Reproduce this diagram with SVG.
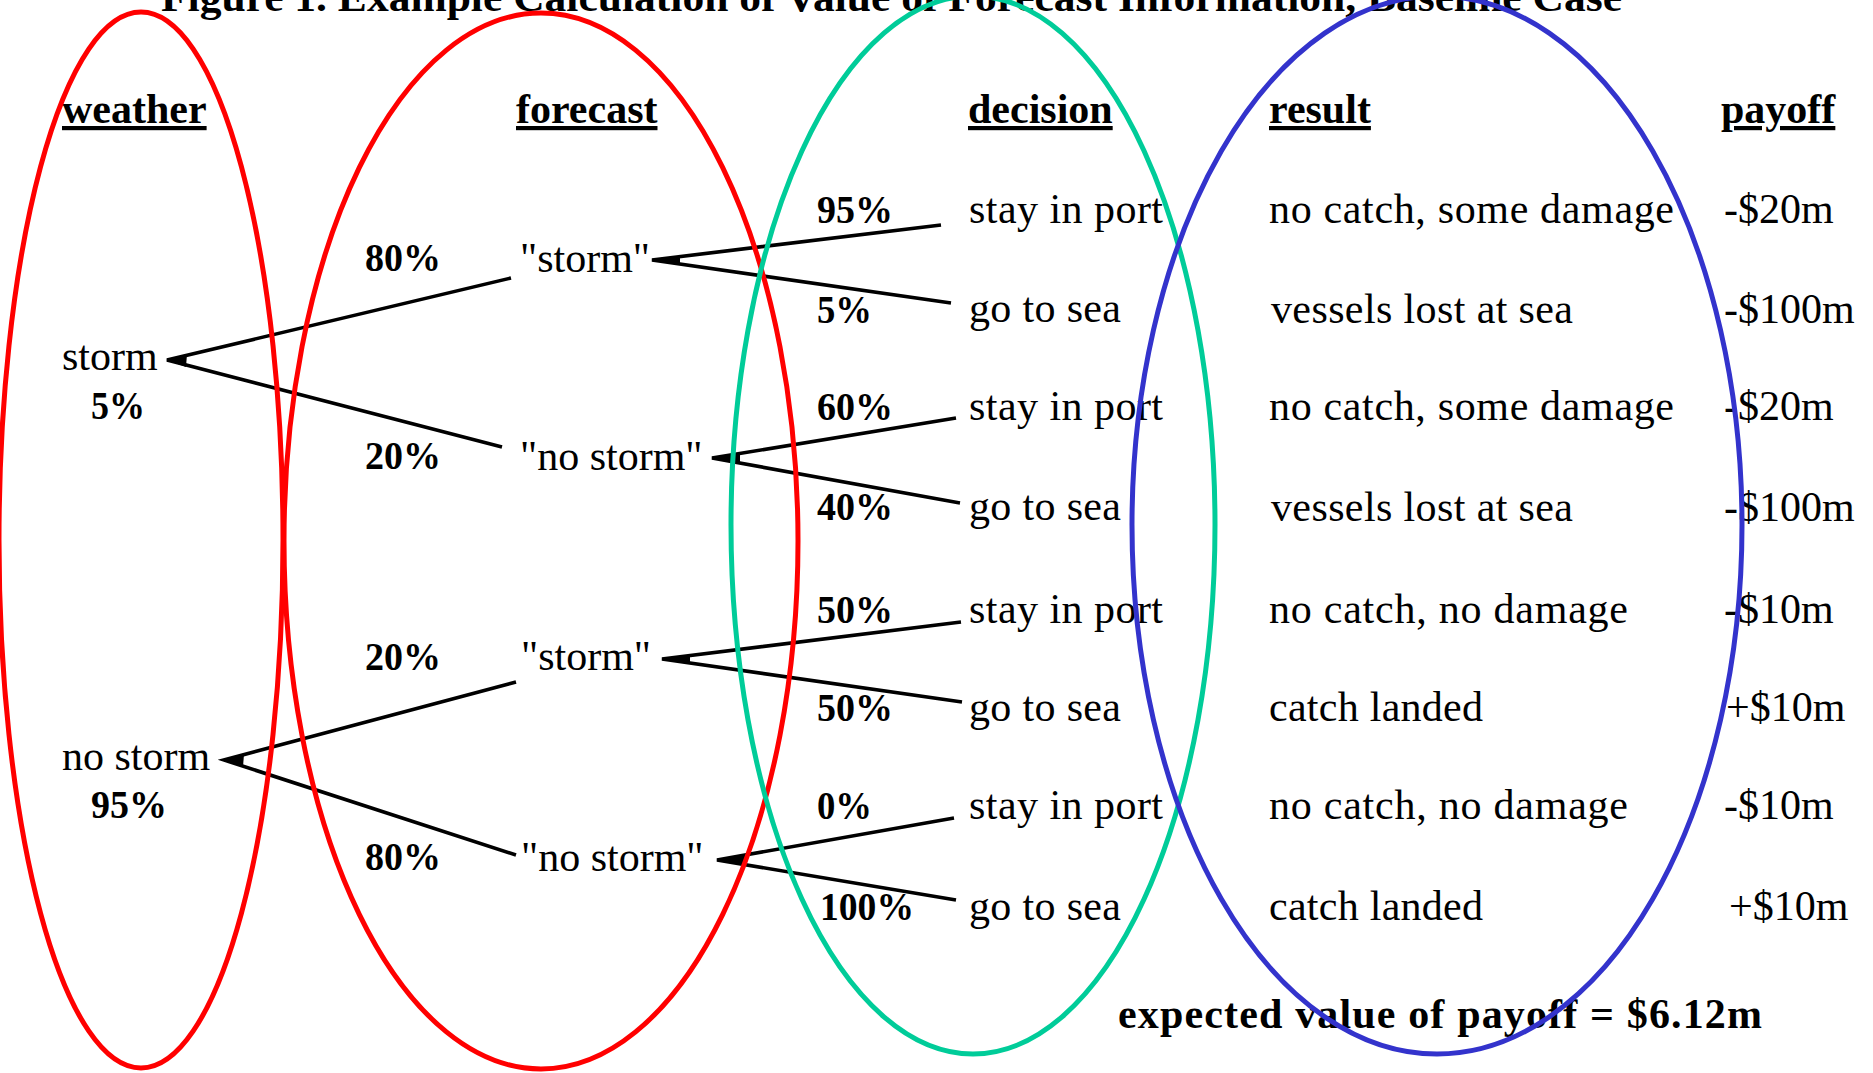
<svg xmlns="http://www.w3.org/2000/svg" width="1873" height="1073" viewBox="0 0 1873 1073">
<style>
text{font-family:"Liberation Serif","Times New Roman",serif;fill:#000}
.t{font-size:40px;font-weight:bold}
.h{font-size:42px;font-weight:bold;text-decoration:underline}
.b{font-size:42px}
.p{font-size:41px;font-weight:bold}
.e{font-size:42px;font-weight:bold}
.ln{stroke:#000;stroke-width:3.6;fill:none;stroke-linejoin:miter}
.wd{fill:#000;stroke:none}
.ov{fill:none;stroke-width:5}
</style>
<rect width="1873" height="1073" fill="#fff"/>
<text class="t" x="161" y="11" textLength="1461" lengthAdjust="spacingAndGlyphs">Figure 1. Example Calculation of Value of Forecast Information, Baseline Case</text>
<g id="headers">
<text class="h" x="62" y="123">weather</text>
<text class="h" x="516" y="123">forecast</text>
<text class="h" x="968" y="123">decision</text>
<text class="h" x="1269" y="123">result</text>
<text class="h" x="1721" y="123">payoff</text>
</g>
<g id="connectors">
<polyline class="ln" points="511,278 167,360 502,447"/>
<polygon class="wd" points="167,360 187,354 186,367"/>
<polyline class="ln" points="516,682 224,760 516,855"/>
<polygon class="wd" points="224,760 244,754 243,767"/>
<polyline class="ln" points="941,225 652,260 951,303"/>
<polygon class="wd" points="652,260 680,256 680,264"/>
<polyline class="ln" points="956,418 712,458 960,503"/>
<polygon class="wd" points="712,458 740,453 740,463"/>
<polyline class="ln" points="961,622 662,659 962,702"/>
<polygon class="wd" points="662,659 690,655 690,663"/>
<polyline class="ln" points="954,818 717,860 956,900"/>
<polygon class="wd" points="717,860 745,855 745,865"/>
</g>
<g id="weather-storm"><text class="b" x="62" y="370">storm</text><text class="p" x="91" y="419" textLength="54" lengthAdjust="spacingAndGlyphs">5%</text></g>
<g id="weather-nostorm"><text class="b" x="62" y="770">no storm</text><text class="p" x="91" y="818" textLength="76" lengthAdjust="spacingAndGlyphs">95%</text></g>
<g id="forecast-1"><text class="p" x="365" y="271" textLength="76" lengthAdjust="spacingAndGlyphs">80%</text><text class="b" x="520" y="272">"storm"</text></g>
<g id="forecast-2"><text class="p" x="365" y="469" textLength="76" lengthAdjust="spacingAndGlyphs">20%</text><text class="b" x="520" y="470">"no storm"</text></g>
<g id="forecast-3"><text class="p" x="365" y="670" textLength="76" lengthAdjust="spacingAndGlyphs">20%</text><text class="b" x="521" y="670">"storm"</text></g>
<g id="forecast-4"><text class="p" x="365" y="870" textLength="76" lengthAdjust="spacingAndGlyphs">80%</text><text class="b" x="521" y="871">"no storm"</text></g>
<g id="row-1"><text class="p" x="817" y="223" textLength="76" lengthAdjust="spacingAndGlyphs">95%</text><text class="b" x="969" y="223" textLength="194">stay in port</text><text class="b" x="1269" y="223" textLength="405">no catch, some damage</text><text class="b" x="1724" y="223">-$20m</text></g>
<g id="row-2"><text class="p" x="817" y="323" textLength="55" lengthAdjust="spacingAndGlyphs">5%</text><text class="b" x="969" y="322" textLength="152">go to sea</text><text class="b" x="1271" y="323" textLength="302">vessels lost at sea</text><text class="b" x="1724" y="323">-$100m</text></g>
<g id="row-3"><text class="p" x="817" y="420" textLength="76" lengthAdjust="spacingAndGlyphs">60%</text><text class="b" x="969" y="420" textLength="194">stay in port</text><text class="b" x="1269" y="420" textLength="405">no catch, some damage</text><text class="b" x="1724" y="420">-$20m</text></g>
<g id="row-4"><text class="p" x="817" y="520" textLength="76" lengthAdjust="spacingAndGlyphs">40%</text><text class="b" x="969" y="520" textLength="152">go to sea</text><text class="b" x="1271" y="521" textLength="302">vessels lost at sea</text><text class="b" x="1724" y="521">-$100m</text></g>
<g id="row-5"><text class="p" x="817" y="623" textLength="76" lengthAdjust="spacingAndGlyphs">50%</text><text class="b" x="969" y="623" textLength="194">stay in port</text><text class="b" x="1269" y="623" textLength="359">no catch, no damage</text><text class="b" x="1724" y="623">-$10m</text></g>
<g id="row-6"><text class="p" x="817" y="721" textLength="76" lengthAdjust="spacingAndGlyphs">50%</text><text class="b" x="969" y="721" textLength="152">go to sea</text><text class="b" x="1269" y="721" textLength="214">catch landed</text><text class="b" x="1726" y="721">+$10m</text></g>
<g id="row-7"><text class="p" x="817" y="819" textLength="55" lengthAdjust="spacingAndGlyphs">0%</text><text class="b" x="969" y="819" textLength="194">stay in port</text><text class="b" x="1269" y="819" textLength="359">no catch, no damage</text><text class="b" x="1724" y="819">-$10m</text></g>
<g id="row-8"><text class="p" x="820" y="920" textLength="94" lengthAdjust="spacingAndGlyphs">100%</text><text class="b" x="969" y="920" textLength="152">go to sea</text><text class="b" x="1269" y="920" textLength="214">catch landed</text><text class="b" x="1729" y="920">+$10m</text></g>
<g id="expected"><text class="e" x="1118" y="1028" textLength="644">expected value of payoff = $6.12m</text></g>
<g id="ellipses">
<ellipse class="ov" cx="141" cy="540" rx="142" ry="528" stroke="#ff0000"/>
<ellipse class="ov" cx="541" cy="541" rx="257" ry="528" stroke="#ff0000"/>
<ellipse class="ov" cx="973" cy="525" rx="242" ry="529" stroke="#00cc99"/>
<ellipse class="ov" cx="1437" cy="525" rx="305" ry="529" stroke="#3333cc"/>
</g>
</svg>
